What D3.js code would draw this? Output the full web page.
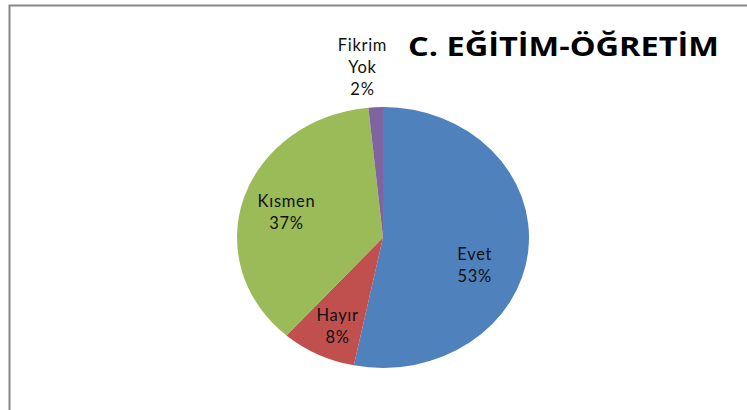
<!DOCTYPE html>
<html>
<head>
<meta charset="utf-8">
<script src="https://cdn.jsdelivr.net/npm/d3@7"></script>
<style>
  body { margin: 0; background: #fff; }
  svg { display: block; }
</style>
</head>
<body>
<svg width="747" height="410"></svg>
<script>
// Chart data
const categories = ["Evet", "Hayır", "Kısmen", "Fikrim Yok"];
const values = [53.2, 8.3, 36.9, 1.6];
const colors = ["#4F81BD", "#C0504D", "#9BBB59", "#8064A2"];
const title = "C. EĞİTİM-ÖĞRETİM";

// label placement tweaks (radius fraction, x/y nudge in px)
const labelRadius = [0.68, 0.76, 0.68, 1.3];
const labelNudge = [[-7, 19], [4, 0], [-2, 2], [-11, -1]];

const svg = d3.select("svg"),
    width = +svg.attr("width"),
    height = +svg.attr("height");

// chart area border (top and left edges visible)
svg.append("path")
    .attr("d", `M9.5,${height} L9.5,5.5 L${width},5.5`)
    .attr("fill", "none")
    .attr("stroke", "#878787")
    .attr("stroke-width", 2);

// Pie is a bit stretched horizontally, like the original
const cx = 383, cy = 237.5, ry = 130.5, rx = 146;
const sx = rx / ry;

const total = d3.sum(values);
const data = categories.map((c, i) => ({ name: c, value: values[i], color: colors[i] }));

const pie = d3.pie().sort(null).value(d => d.value);
const arcs = pie(data);
const arc = d3.arc().innerRadius(0).outerRadius(ry);

const g = svg.append("g")
    .attr("transform", `translate(${cx},${cy}) scale(${sx},1)`);

g.selectAll("path.slice")
    .data(arcs)
    .enter().append("path")
    .attr("class", "slice")
    .attr("d", arc)
    .attr("fill", d => d.data.color);

// Labels: inside slices, the tiny slice goes outside on three lines
const fmt = v => Math.round(v / total * 100) + "%";
const labels = svg.append("g")
    .attr("font-family", "Lato, 'Open Sans', sans-serif")
    .attr("font-size", 16.5)
    .attr("letter-spacing", 0.7)
    .attr("fill", "#111")
    .attr("text-anchor", "middle");

arcs.forEach(d => {
    const i = d.index;
    const mid = (d.startAngle + d.endAngle) / 2;
    const small = d.data.value / total < 0.05;
    const r = labelRadius[i];
    const x = cx + Math.sin(mid) * rx * r + labelNudge[i][0];
    const y = cy - Math.cos(mid) * ry * r + labelNudge[i][1];
    const lines = (small ? d.data.name.split(" ") : [d.data.name]).concat([fmt(d.data.value)]);
    const lh = 22;
    const t = labels.append("text")
        .attr("x", x)
        .attr("y", y - (lines.length - 1) * lh / 2 + 5.5);
    lines.forEach((s, k) => {
        t.append("tspan")
            .attr("x", x)
            .attr("dy", k === 0 ? 0 : lh)
            .text(s);
    });
});

// Title
svg.append("text")
    .attr("x", 408)
    .attr("y", 56)
    .attr("font-family", "'Open Sans', sans-serif")
    .attr("font-weight", "bold")
    .attr("font-size", 27.5)
    .attr("textLength", 311)
    .attr("lengthAdjust", "spacingAndGlyphs")
    .attr("fill", "#000")
    .text(title);
</script>
</body>
</html>
